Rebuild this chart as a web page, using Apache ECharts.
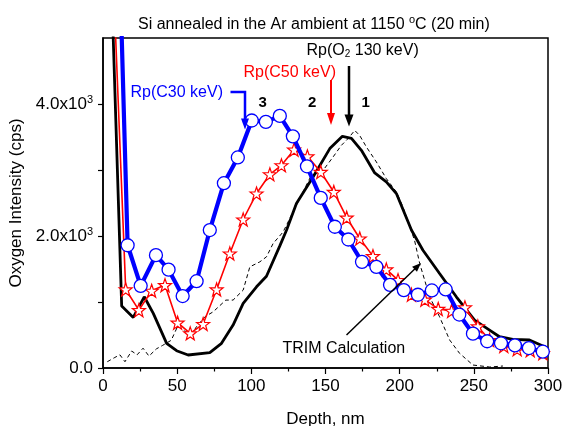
<!DOCTYPE html>
<html>
<head>
<meta charset="utf-8">
<script src="https://cdn.jsdelivr.net/npm/echarts@6/dist/echarts.min.js"></script>
<style>
  html, body { margin: 0; padding: 0; background: #fff; }
  #chart { width: 563px; height: 426px; }
</style>
</head>
<body>
<div id="chart"></div>
<script>
// depth (nm) / oxygen intensity (cps)
const depthC30 = [11, 16.6, 25.4, 35.7, 44.2, 53.7, 63.1, 72, 81.5, 90.9, 100.3, 109.8, 119.2, 128, 137.5, 146.8, 156.3, 165.4, 174.6, 184.3, 193.5, 202.8, 212.3, 221.7, 231, 240.2, 249.4, 259, 268.3, 277.7, 287.1, 296.5];
const oxyC30 = [6300, 1860, 1245, 1710, 1490, 1090, 1315, 2090, 2800, 3190, 3750, 3730, 3820, 3510, 3056, 2577, 2140, 1947, 1608, 1533, 1260, 1180, 1110, 1175, 1190, 810, 520, 405, 374, 342, 302, 247];

const depthC50 = [7, 15.3, 24.2, 32.8, 41.8, 50.3, 58.8, 67.5, 76.6, 85.5, 94.5, 103.5, 112.5, 120.3, 128.8, 137.8, 146.8, 155.6, 164.3, 173.1, 182, 191, 198.9, 207.9, 217, 226, 235, 244, 252.7, 260.6, 270.2, 279.2, 288, 296.5];
const oxyC50 = [5870, 1190, 877, 1170, 1256, 686, 525, 666, 1190, 1735, 2250, 2643, 2935, 3071, 3308, 3207, 2970, 2667, 2277, 1962, 1695, 1493, 1331, 1110, 1035, 895, 865, 918, 630, 424, 335, 283, 270, 225];

const depthO2 = [5, 12.6, 20.4, 27.8, 33.9, 42.9, 49.6, 57.4, 72, 79.9, 87.7, 94.5, 103.5, 110.2, 119.2, 123.7, 130.4, 141.6, 152.9, 161.4, 167.5, 174.2, 183.2, 191, 197.8, 208, 215.7, 226.9, 238.2, 250.5, 260.6, 267.3, 276.3, 287.5, 300];
const oxyO2 = [6350, 938, 767, 1079, 827, 374, 262, 197, 232, 374, 651, 979, 1230, 1390, 1850, 2088, 2492, 2895, 3324, 3510, 3480, 3298, 2955, 2819, 2643, 2088, 1785, 1432, 1079, 726, 575, 474, 434, 424, 298];

const depthTrim = [2.9, 8, 11.4, 14.8, 19.3, 23, 27, 31, 36, 40, 46, 50.5, 55, 60, 63, 68.7, 74.3, 82.8, 87.7, 94.5, 99, 105.7, 110.2, 114.7, 121.4, 130, 140, 148.4, 155.1, 160.7, 165.2, 169.7, 173, 177.6, 184.3, 191, 197.8, 202.2, 210, 213.5, 220.2, 226.9, 233.7, 240.4, 249.4, 260.6, 269.6];
const oxyTrim = [95, 160, 200, 95, 257, 200, 300, 180, 290, 340, 420, 640, 560, 520, 625, 776, 852, 1029, 1029, 1180, 1533, 1608, 1684, 1887, 2060, 2450, 2900, 2996, 3197, 3374, 3475, 3600, 3525, 3348, 3122, 2870, 2668, 2441, 1937, 1584, 1079, 776, 424, 222, 45, 15, 30];

const yTicks = [0, 1000, 2000, 3000, 4000];
const yLabels = [0, 2000, 4000];

const pairs = (xs, ys) => xs.map((x, i) => [x, ys[i]]);

const FONT = '"Liberation Sans", Arial, sans-serif';
const STAR = 'path://M50 0 L61.8 33.8 L97.6 34.5 L69 56.2 L79.4 90.5 L50 70 L20.6 90.5 L31 56.2 L2.4 34.5 L38.2 33.8 Z';

const chart = echarts.init(document.getElementById('chart'));

// arrow head helper (pixel coords of annotations)
function head(tip, from, len, half, color) {
  const dx = tip[0] - from[0], dy = tip[1] - from[1];
  const d = Math.sqrt(dx * dx + dy * dy);
  const ux = dx / d, uy = dy / d;
  const bx = tip[0] - ux * len, by = tip[1] - uy * len;
  return {
    type: 'polygon', z: 100,
    shape: { points: [tip, [bx - uy * half, by + ux * half], [bx + uy * half, by - ux * half]] },
    style: { fill: color }
  };
}
function seg(points, color, width) {
  return { type: 'polyline', z: 100, shape: { points: points }, style: { stroke: color, lineWidth: width, fill: null } };
}
function label(text, x, y, color, size, weight, rich) {
  return {
    type: 'text', z: 100, x: x, y: y,
    style: { text: text, fill: color, font: (weight || 'normal') + ' ' + size + 'px ' + FONT, verticalAlign: 'middle', rich: rich }
  };
}

chart.setOption({
  animation: false,
  backgroundColor: '#fff',
  title: {
    text: 'Si annealed in the Ar ambient at 1150 {sup|o}C (20 min)',
    left: 133, top: 9,
    textStyle: {
      fontFamily: FONT, fontSize: 16, fontWeight: 'normal', color: '#000',
      rich: { sup: { fontFamily: FONT, fontSize: 11, color: '#000', padding: [0, 0, 10, 0] } }
    }
  },
  grid: {
    left: 103, right: 15, top: 38, bottom: 58,
    outerBoundsMode: 'none', containLabel: false,
    show: true, borderColor: '#000', borderWidth: 1.5, backgroundColor: 'transparent'
  },
  xAxis: {
    type: 'value', min: 0, max: 300, interval: 50,
    name: 'Depth, nm', nameLocation: 'middle', nameGap: 43,
    nameTextStyle: { fontFamily: FONT, fontSize: 17, color: '#000' },
    axisLine: { show: true, lineStyle: { color: '#000', width: 1.5 } },
    axisTick: { show: true, length: 6, lineStyle: { color: '#000', width: 1.2 } },
    minorTick: { show: true, splitNumber: 2, length: 3.5, lineStyle: { color: '#000', width: 1.2 } },
    splitLine: { show: false },
    axisLabel: { fontFamily: FONT, fontSize: 17, color: '#000', margin: 10 }
  },
  yAxis: {
    type: 'value', min: 0, max: 5000, interval: 1000,
    name: 'Oxygen Intensity (cps)', nameLocation: 'middle', nameGap: 76,
    nameTextStyle: { fontFamily: FONT, fontSize: 17, color: '#000' },
    axisLine: { show: true, lineStyle: { color: '#000', width: 1.5 } },
    axisTick: { show: true, length: 5, customValues: yTicks, lineStyle: { color: '#000', width: 1.2 } },
    splitLine: { show: false },
    axisLabel: {
      customValues: yLabels, margin: 10,
      fontFamily: FONT, fontSize: 17, color: '#000',
      formatter: v => v === 0 ? '0.0' : (v / 1000).toFixed(1) + 'x10{sup|3}',
      rich: { sup: { fontFamily: FONT, fontSize: 11, color: '#000', padding: [0, 0, 8, 0] } }
    }
  },
  series: [
    {
      name: 'TRIM', type: 'line', z: 1, data: pairs(depthTrim, oxyTrim),
      showSymbol: false, symbol: 'none',
      lineStyle: { color: '#000', width: 1, type: [4, 3] }
    },
    {
      name: 'O2 130 keV', type: 'line', z: 2, data: pairs(depthO2, oxyO2),
      showSymbol: false, symbol: 'none',
      lineStyle: { color: '#000', width: 2.8 }
    },
    {
      name: 'C50 keV', type: 'line', z: 3, data: pairs(depthC50, oxyC50),
      symbol: STAR, symbolSize: 13,
      itemStyle: { color: '#fff', borderColor: '#ff0000', borderWidth: 1.2 },
      lineStyle: { color: '#ff0000', width: 1.6 }
    },
    {
      name: 'C30 keV', type: 'line', z: 4, data: pairs(depthC30, oxyC30),
      symbol: 'circle', symbolSize: 13,
      itemStyle: { color: '#fff', borderColor: '#0000ff', borderWidth: 1.3 },
      lineStyle: { color: '#0000ff', width: 4.2 }
    }
  ],
  graphic: [
    label('Rp(C30 keV)', 130.5, 92.5, '#0000ff', 16),
    seg([[230.5, 92], [245, 92], [245, 120]], '#0000ff', 2.5),
    head([245, 129.5], [245, 92], 11, 4, '#0000ff'),

    label('Rp(C50 keV)', 243.5, 72.5, '#ff0000', 16),
    seg([[331, 80], [331, 114]], '#ff0000', 2),
    head([331, 125], [331, 80], 12, 4, '#ff0000'),

    label('Rp(O{sub|2} 130 keV)', 306.5, 50.5, '#000', 16, 'normal',
      { sub: { fontFamily: FONT, fontSize: 10, fill: '#000', padding: [8, 0, 0, 0] } }),
    seg([[349, 66], [349, 115]], '#000', 2.5),
    head([349, 126.5], [349, 66], 12, 4.5, '#000'),

    label('3', 258.5, 102.5, '#000', 15, 'bold'),
    label('2', 308, 102.5, '#000', 15, 'bold'),
    label('1', 361.5, 102.5, '#000', 15, 'bold'),

    label('TRIM Calculation', 282.5, 348.5, '#000', 16),
    seg([[346.5, 335], [415, 268.8]], '#000', 1.5),
    head([421, 263], [346.5, 335], 9, 3.5, '#000')
  ]
});
</script>
</body>
</html>
